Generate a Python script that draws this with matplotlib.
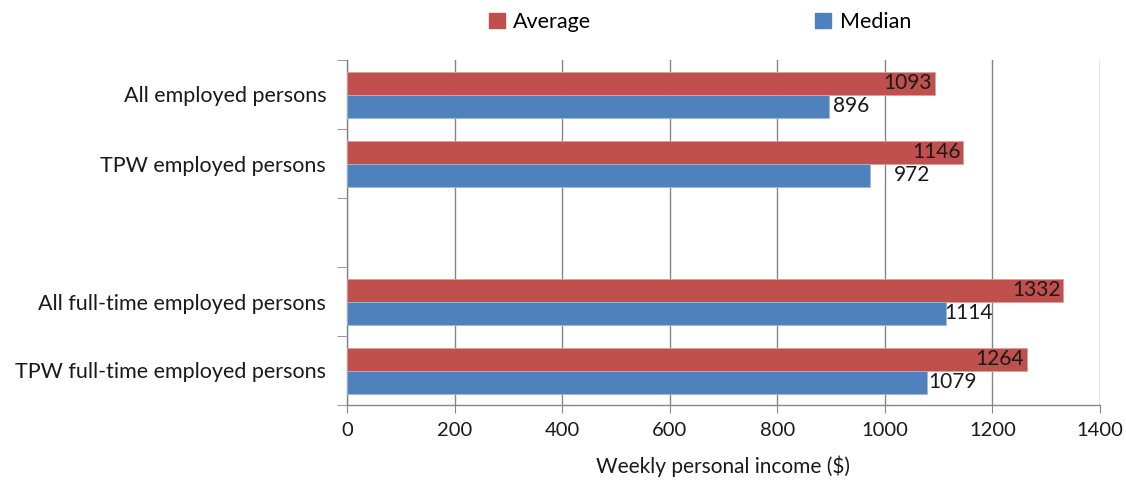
import numpy as np
import matplotlib.pyplot as plt
from matplotlib.patches import Patch

plt.rcParams['font.family'] = ['Lato', 'DejaVu Sans']

# data
categories = ["All employed persons", "TPW employed persons",
              "All full-time employed persons", "TPW full-time employed persons"]
average = [1093, 1146, 1332, 1264]
median = [896, 972, 1114, 1079]

# slot positions (slot 2 left empty between the two groups)
pos = np.array([0, 1, 3, 4])
bar_h = 1 / 3
red = "#C0504D"
blue = "#4F81BD"
grid_c = "#868686"
txt_c = "#1a1a1a"

fig = plt.figure(figsize=(11.26, 4.84), dpi=100)
ax = fig.add_axes([347 / 1126, 1 - 405 / 484, 753 / 1126, 345 / 484])

ax.barh(pos - bar_h / 2, average, height=bar_h, color=red, edgecolor="#D9A09E", linewidth=0.6, zorder=3)
ax.barh(pos + bar_h / 2, median, height=bar_h, color=blue, edgecolor="#9FB8D8", linewidth=0.6, zorder=3)

# labels: average inside the bar end, median just past the bar end
med_shift = [4, 24, -2, 1]  # pixel nudges for the median labels
for p, a, m, s in zip(pos, average, median, med_shift):
    ax.annotate(str(a), (a, p - bar_h / 2), xytext=(-3, 0), textcoords="offset pixels",
                ha="right", va="center", fontsize=15, color=txt_c, zorder=4)
    ax.annotate(str(m), (m, p + bar_h / 2), xytext=(s, 0), textcoords="offset pixels",
                ha="left", va="center", fontsize=15, color=txt_c, zorder=4)

ax.set_xlim(0, 1400)
ax.set_ylim(4.5, -0.5)
ax.set_xticks(np.arange(0, 1401, 200))
ax.tick_params(axis="x", labelsize=14.5, length=6, color=grid_c, pad=6, labelcolor=txt_c)

ax.set_yticks(pos)
ax.set_yticklabels(categories, fontsize=15.5, color=txt_c)
ax.tick_params(axis="y", which="major", length=0, pad=15)
ax.set_yticks(np.arange(-0.5, 4.6, 1), minor=True)
ax.tick_params(axis="y", which="minor", length=7, color=grid_c)

ax.grid(axis="x", color=grid_c, linewidth=1, zorder=0)
ax.set_axisbelow(True)
for side in ["top", "right"]:
    ax.spines[side].set_visible(False)
for side in ["left", "bottom"]:
    ax.spines[side].set_color(grid_c)
    ax.spines[side].set_linewidth(1)

ax.set_xlabel(r"Weekly personal income (\$)", fontsize=15, color=txt_c, labelpad=12)

handles = [Patch(color=red, label="Average"), Patch(color=blue, label="Median")]
fig.legend(handles=handles, loc="center", bbox_to_anchor=(700 / 1126, 1 - 22 / 484), ncol=2,
           frameon=False, fontsize=15.5, handlelength=0.75, handleheight=0.75,
           handletextpad=0.4, columnspacing=10.4)

fig.savefig("out.png", dpi=100)
